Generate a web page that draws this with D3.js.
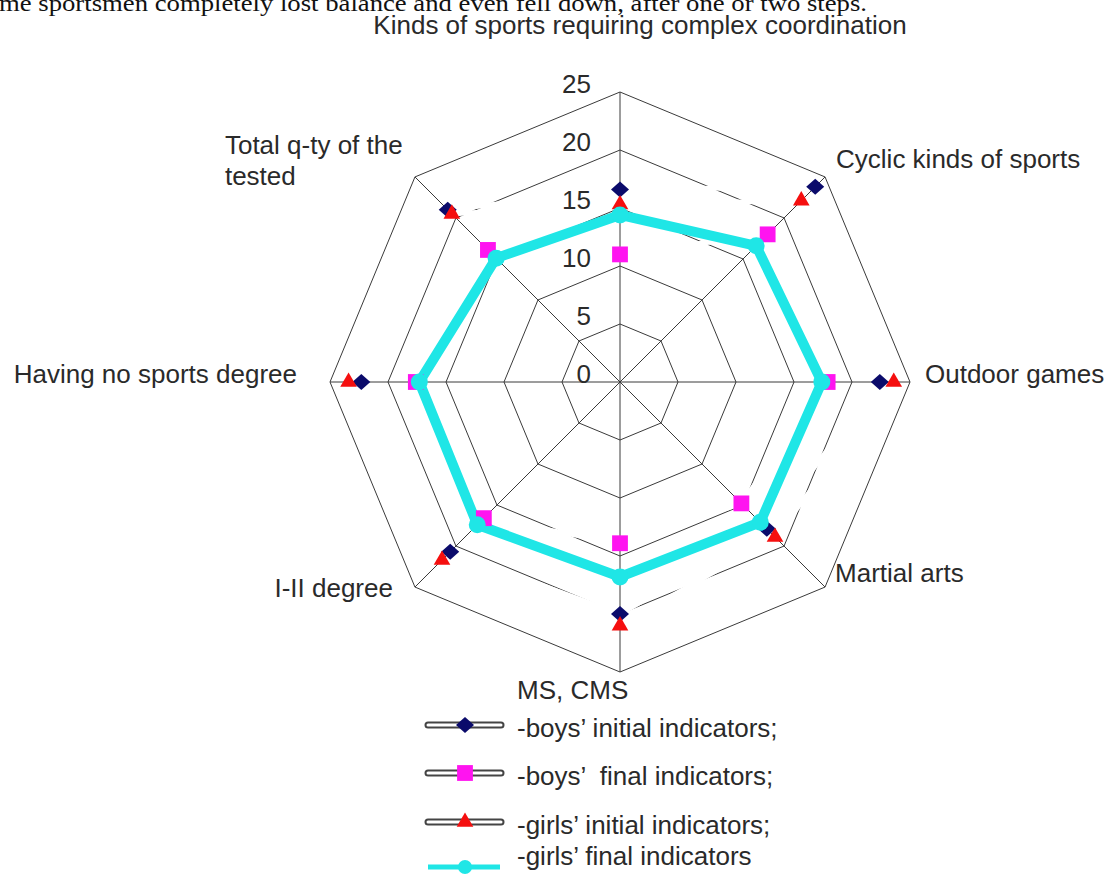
<!DOCTYPE html>
<html>
<head>
<meta charset="utf-8">
<script src="https://cdn.jsdelivr.net/npm/d3@7"></script>
<style>
  html, body { margin: 0; padding: 0; background: #fff; }
  svg { display: block; }
  text { font-family: 'Liberation Sans', Arial, sans-serif; fill: #2a2a2a; white-space: pre; }
</style>
</head>
<body>
<div class="svgcontainer"></div>
<script>
// axes, clockwise from the top
const categories = [
  'Kinds of sports requiring complex coordination',
  'Cyclic kinds of sports',
  'Outdoor games',
  'Martial arts',
  'MS, CMS',
  'I-II degree',
  'Having no sports degree',
  'Total q-ty of the tested',
];
const boysInitial = [16.6, 23.8, 22.4, 17.9, 20.0, 20.7, 22.3, 21.0];
const boysFinal = [11.0, 18.0, 17.9, 14.8, 13.9, 16.6, 17.6, 16.1];
const girlsInitial = [15.3, 22.1, 23.6, 18.9, 21.0, 21.7, 23.4, 20.5];
const girlsFinal = [14.4, 16.6, 17.4, 17.1, 16.8, 17.4, 17.3, 15.1];
const ticks = [0, 5, 10, 15, 20, 25];
const legendLabels = [
  '-boys\u2019 initial indicators;',
  '-boys\u2019  final indicators;',
  '-girls\u2019 initial indicators;',
  '-girls\u2019 final indicators',
];

const svg = d3
  .select('.svgcontainer')
  .append('svg')
  .attr('width', 1110)
  .attr('height', 876);

const cx = 620;
const cy = 382;
const step = (2 * Math.PI) / categories.length;

const r = d3
  .scaleLinear()
  .domain([0, 25])
  .range([0, 290]);

const pt = (v, i) => [cx + r(v) * Math.sin(i * step), cy - r(v) * Math.cos(i * step)];

const ring = d3
  .lineRadial()
  .angle((d, i) => i * step)
  .radius(d => r(d))
  .curve(d3.curveLinearClosed);

const g = svg.append('g').attr('transform', `translate(${cx},${cy})`);

// text line cut off at the top of the page
svg
  .append('text')
  .attr('x', -1)
  .attr('y', 11)
  .style('font-family', "'Liberation Serif', 'Times New Roman', serif")
  .style('font-size', '24px')
  .style('fill', '#111')
  .attr('textLength', 868)
  .attr('lengthAdjust', 'spacingAndGlyphs')
  .text('me sportsmen completely lost balance and even fell down, after one or two steps.');

// grid rings
g.selectAll('.ring')
  .data(ticks.filter(t => t > 0))
  .enter()
  .append('path')
  .attr('class', 'ring')
  .attr('d', t => ring(categories.map(() => t)))
  .attr('fill', 'none')
  .attr('stroke', '#3a3a3a')
  .attr('stroke-width', 1);

// spokes
g.selectAll('.spoke')
  .data(categories)
  .enter()
  .append('line')
  .attr('class', 'spoke')
  .attr('x1', 0)
  .attr('y1', 0)
  .attr('x2', (d, i) => r(25) * Math.sin(i * step))
  .attr('y2', (d, i) => -r(25) * Math.cos(i * step))
  .attr('stroke', '#3a3a3a')
  .attr('stroke-width', 1);

// the three white "double" lines hide the grid where they pass
[boysInitial, boysFinal, girlsInitial].forEach(s => {
  g.append('path')
    .attr('d', ring(s))
    .attr('fill', 'none')
    .attr('stroke', '#fff')
    .attr('stroke-width', 5);
});

// tick labels
g.selectAll('.tick')
  .data(ticks)
  .enter()
  .append('text')
  .attr('class', 'tick')
  .attr('x', -29)
  .attr('y', t => -r(t) + 1)
  .attr('text-anchor', 'end')
  .style('font-size', '26px')
  .text(t => t);

// category labels, placed from the outer vertex
const labelPos = [
  {dx: 20, dy: -58, anchor: 'middle'},
  {dx: 11, dy: -9, anchor: 'start'},
  {dx: 15, dy: 1, anchor: 'start'},
  {dx: 10, dy: -5, anchor: 'start'},
  {dx: -103, dy: 27, anchor: 'start'},
  {dx: -22, dy: 10, anchor: 'end'},
  {dx: -33, dy: 1, anchor: 'end'},
  {dx: -190, dy: -23, anchor: 'start'},
];

categories.forEach((c, i) => {
  const [x, y] = pt(25, i);
  const lp = labelPos[i];
  const t = svg
    .append('text')
    .attr('x', x + lp.dx)
    .attr('y', y + lp.dy)
    .attr('text-anchor', lp.anchor)
    .style('font-size', '26px');
  if (i === 7) {
    t.append('tspan').attr('x', x + lp.dx).text('Total q-ty of the');
    t.append('tspan').attr('x', x + lp.dx).attr('dy', 31).text('tested');
  } else {
    t.text(c);
  }
});

// wide diamond: a square turned 45 degrees
const diamond = 'M0,-8L9,0L0,8L-9,0Z';
const square = d3.symbol().type(d3.symbolSquare).size(250);
const triangle = d3.symbol().type(d3.symbolTriangle).size(120);

const blue = '#0b0b6b';
const pink = '#ff14f0';
const red = '#f50f0f';
const cyan = '#1fe6e6';

function markers(data, sym, color, cls) {
  svg
    .selectAll('.' + cls)
    .data(data)
    .enter()
    .append('path')
    .attr('class', cls)
    .attr('d', sym)
    .attr('transform', (d, i) => `translate(${pt(d, i)})`)
    .attr('fill', color);
}

markers(boysInitial, diamond, blue, 'bi');
markers(boysFinal, square, pink, 'bf');
markers(girlsInitial, triangle, red, 'gi');

// girls' final indicators: thick cyan line on top
g.append('path')
  .attr('d', ring(girlsFinal))
  .attr('fill', 'none')
  .attr('stroke', cyan)
  .attr('stroke-width', 10)
  .attr('stroke-linejoin', 'round');

svg
  .selectAll('.gf')
  .data(girlsFinal)
  .enter()
  .append('circle')
  .attr('class', 'gf')
  .attr('cx', (d, i) => pt(d, i)[0])
  .attr('cy', (d, i) => pt(d, i)[1])
  .attr('r', 8.5)
  .attr('fill', cyan);

// legend
const legendY = [725, 773, 822, 867];
const legend = svg
  .selectAll('.legend')
  .data(legendLabels)
  .enter()
  .append('g')
  .attr('class', 'legend')
  .attr('transform', (d, i) => `translate(0,${legendY[i]})`);

legend.each(function(d, i) {
  const lg = d3.select(this);
  if (i < 3) {
    lg.append('line')
      .attr('x1', 428)
      .attr('x2', 501)
      .attr('stroke', '#444')
      .attr('stroke-width', 7)
      .attr('stroke-linecap', 'round');
    lg.append('line')
      .attr('x1', 428)
      .attr('x2', 501)
      .attr('stroke', '#fff')
      .attr('stroke-width', 3)
      .attr('stroke-linecap', 'round');
    const syms = [diamond, square, triangle];
    const cols = [blue, pink, red];
    lg.append('path')
      .attr('d', syms[i])
      .attr('transform', 'translate(465,0)')
      .attr('fill', cols[i]);
  } else {
    lg.append('line')
      .attr('x1', 428)
      .attr('x2', 500)
      .attr('stroke', cyan)
      .attr('stroke-width', 5);
    lg.append('circle')
      .attr('cx', 465)
      .attr('r', 7)
      .attr('fill', cyan);
  }
  lg.append('text')
    .attr('x', 517)
    .attr('y', i < 3 ? 12 : -2)
    .style('font-size', '26px')
    .text(d);
});
</script>
</body>
</html>
